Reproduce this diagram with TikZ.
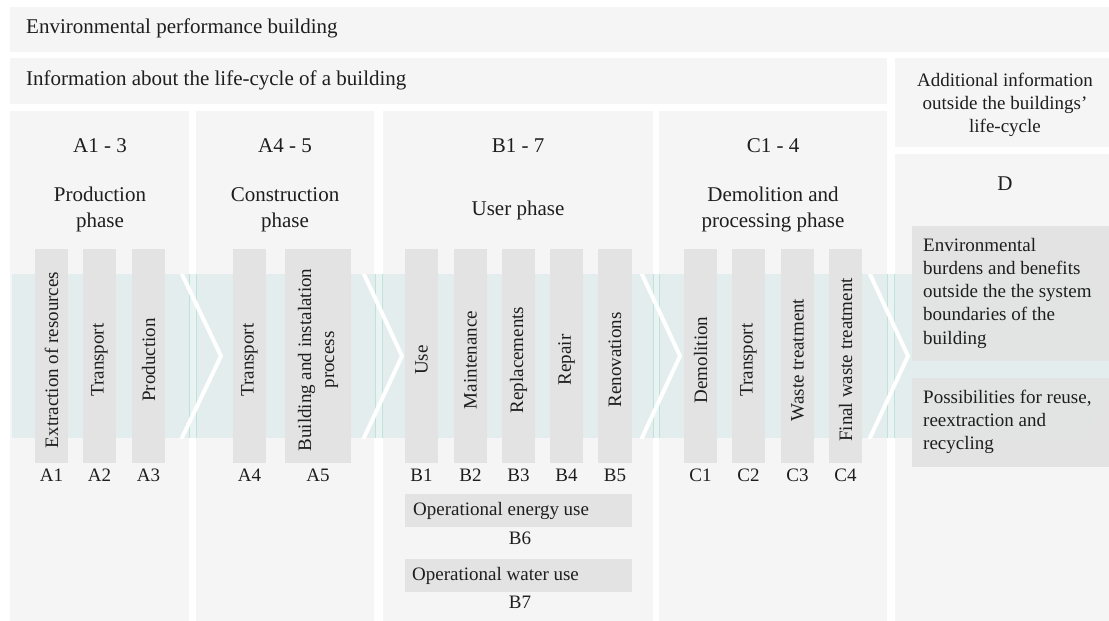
\documentclass[tikz,border=0pt]{standalone}
\usepackage{fontspec}
\setmainfont{Liberation Serif}
\definecolor{panelc}{HTML}{F5F5F5}
\definecolor{barc}{HTML}{E2E3E2}
\definecolor{bandc}{HTML}{E3EDED}
\definecolor{gapband}{HTML}{E8F3F2}
\definecolor{edgec}{HTML}{BFE2DF}
\definecolor{txt}{HTML}{1E1E1E}
\begin{document}
\begin{tikzpicture}[x=1pt,y=-1pt,
  panel/.style={fill=panelc},
  barbox/.style={fill=barc},
  hdr/.style={font=\fontsize{21}{27}\selectfont,text=txt,inner sep=0pt},
  lbl/.style={font=\fontsize{19}{23}\selectfont,text=txt,inner sep=0pt},
  vlbl/.style={lbl,rotate=90,align=center},
  chev/.style={white,line width=4pt,line join=miter},
  edge/.style={edgec,line width=0.8pt}]
\useasboundingbox (0,0) rectangle (1109,621);
\fill[white] (0,0) rectangle (1109,621);

% header bars
\fill[panel] (10,7) rectangle (1109,52);
\node[hdr,anchor=base west] (title) at (26,33) {Environmental performance building};
\fill[panel] (10,58) rectangle (887,104);
\node[hdr,anchor=base west] (info) at (26,85) {Information about the life-cycle of a building};
\fill[panel] (895,58) rectangle (1109,147);
\node[lbl,anchor=base] (add1) at (1005,86) {Additional information};
\node[lbl,anchor=base] (add2) at (1005,109) {outside the buildings’};
\node[lbl,anchor=base] (add3) at (1005,132) {life-cycle};

% phase columns
\fill[panel] (10,111) rectangle (189,621);
\fill[panel] (196,111) rectangle (374,621);
\fill[panel] (383,111) rectangle (653,621);
\fill[panel] (659,111) rectangle (887,621);
\fill[panel] (895,154) rectangle (1109,621);

% column titles
\node[hdr,anchor=base] (tA13) at (100,152) {A1 - 3};
\node[hdr,anchor=base] (pA13a) at (100,201) {Production};
\node[hdr,anchor=base] (pA13b) at (100,227) {phase};
\node[hdr,anchor=base] (tA45) at (285,152) {A4 - 5};
\node[hdr,anchor=base] (pA45a) at (285,201) {Construction};
\node[hdr,anchor=base] (pA45b) at (285,227) {phase};
\node[hdr,anchor=base] (tB17) at (518,152) {B1 - 7};
\node[hdr,anchor=base] (pB17) at (518,215) {User phase};
\node[hdr,anchor=base] (tC14) at (773,152) {C1 - 4};
\node[hdr,anchor=base] (pC14a) at (773,201) {Demolition and};
\node[hdr,anchor=base] (pC14b) at (773,227) {processing phase};
\node[hdr,anchor=base] (tD) at (1005,190) {D};

% life-cycle band
\fill[bandc] (12,274) rectangle (1109,438);
\foreach \a/\b in {189/196,375/382,653/659,887/894}{
  \fill[gapband] (\a,274) rectangle (\b,438);
  \draw[edge] (\a,274) -- (\a,438);
  \draw[edge] (\b,274) -- (\b,438);
}
\begin{scope}
  \clip (12,274) rectangle (1109,438);
  \foreach \t/\p in {180/221,362/402,640/680,868/908}{
    \draw[chev] (\t,270) -- (\p,356) -- (\t,442);
  }
\end{scope}

% module bars with labels and codes
\foreach \l/\r/\code/\txt [count=\i] in {
  35/68/A1/Extraction of resources,
  83/116/A2/Transport,
  132/165/A3/Production,
  233/266/A4/Transport,
  405/438/B1/Use,
  454/487/B2/Maintenance,
  502/535/B3/Replacements,
  550/583/B4/Repair,
  598/632/B5/Renovations,
  684/717/C1/Demolition,
  732/765/C2/Transport,
  781/814/C3/Waste treatment,
  829/862/C4/Final waste treatment}{
  \fill[barbox] (\l,249) rectangle (\r,463);
  \node[vlbl] (m\i) at ({(\l+\r)/2},360) {\txt};
  \node[lbl,anchor=base] (c\i) at ({(\l+\r)/2},481) {\code};
}
\fill[barbox] (285,249) rectangle (351,463);
\node[vlbl] (mA5) at (318,360) {Building and instalation\\process};
\node[lbl,anchor=base] (cA5) at (318,481) {A5};

% operational use rows
\fill[barbox] (405,494) rectangle (632,527);
\node[lbl,anchor=base west] (b6t) at (413,515) {Operational energy use};
\node[lbl,anchor=base] (b6) at (520,544) {B6};
\fill[barbox] (405,559) rectangle (632,592);
\node[lbl,anchor=base west] (b7t) at (412,580) {Operational water use};
\node[lbl,anchor=base] (b7) at (520,608) {B7};

% module D boxes
\fill[barbox] (912,226) rectangle (1109,361);
\fill[barbox] (912,378) rectangle (1109,467);
\fill[bandc,opacity=0.15] (912,274) -- (1087,274) -- (1128,356) -- (1087,438) -- (912,438) -- cycle;
\foreach \s [count=\i] in {Environmental,burdens and benefits,outside the the system,boundaries of the,building}{
  \node[lbl,anchor=base west] (d1\i) at (923,{251+23.3*(\i-1)}) {\s};
}
\foreach \s [count=\i] in {{Possibilities for reuse,},reextraction and,recycling}{
  \node[lbl,anchor=base west] (d2\i) at (923,{403+23.3*(\i-1)}) {\s};
}
\end{tikzpicture}
\end{document}
